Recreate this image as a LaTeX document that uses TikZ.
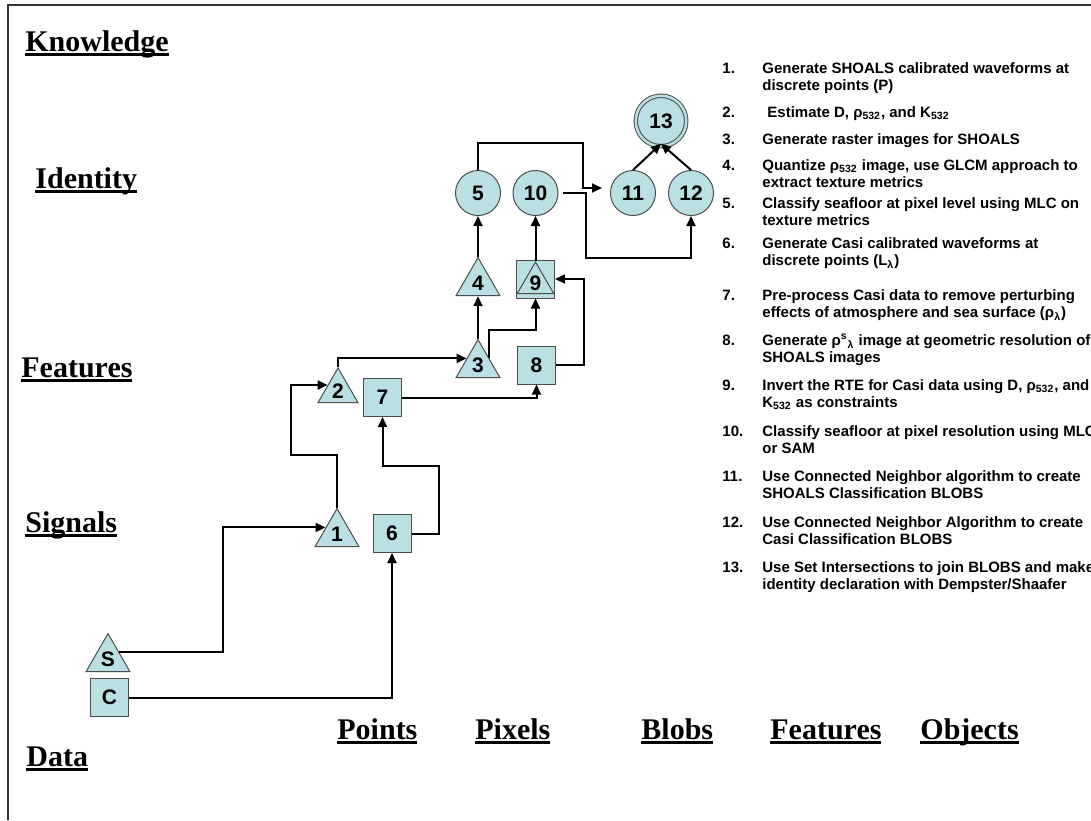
\documentclass[tikz,border=0pt]{standalone}
\usepackage{fontspec}
\setmainfont{Liberation Serif}
\newfontfamily\arialfont{Liberation Sans}
\definecolor{seablue}{HTML}{BBE0E3}
\usetikzlibrary{arrows.meta, shapes.geometric, calc}

\newcommand\ulabel[1]{\setbox0=\hbox{#1}\rlap{\copy0}\rule[-2.6pt]{\wd0}{1.5pt}}

\begin{document}
\begin{tikzpicture}[x=0.5pt, y=-0.5pt,
    proc/.style={draw=black!70, line width=0.5pt, fill=seablue, inner sep=0pt,
      font=\arialfont\bfseries\fontsize{10.5}{12}\selectfont},
    tri/.style={proc, regular polygon, regular polygon sides=3, minimum size=25.4pt},
    box/.style={proc, rectangle, minimum size=19pt},
    blob/.style={proc, circle, minimum size=22.5pt},
    goal/.style={proc, circle, minimum size=25.25pt, double=seablue, double distance=1.25pt},
    conn/.style={-{Triangle[length=5pt, width=4.5pt]}, line width=1pt},
    tier/.style={anchor=base west, inner sep=0pt, font=\bfseries\fontsize{15}{18}\selectfont},
    item/.style={anchor=north west, inner sep=0pt, align=left,
      font=\arialfont\bfseries\fontsize{7.5}{8.5}\selectfont}]
  \useasboundingbox (0,0) rectangle (1091,820);
  \draw[line width=1pt, black!80] (8,820) -- (8,5) -- (1091,5);

  \node[tier] (knowledge) at (25,51)  {\ulabel{Knowledge}};
  \node[tier] (identity)  at (35,188) {\ulabel{Identity}};
  \node[tier] (features)  at (21,377) {\ulabel{Features}};
  \node[tier] (signals)   at (25,532) {\ulabel{Signals}};
  \node[tier] (data)      at (26,766) {\ulabel{Data}};
  \foreach \x/\lab in {337/Points, 475/Pixels, 641/Blobs, 770/Features, 920/Objects}
    \node[tier] (axis\lab) at (\x,739) {\ulabel{\lab}};

  \node[tri] (S)  at (108,659)   {S};
  \node[box] (C)  at (109.5,697.5) {C};
  \node[tri] (t1) at (337,534)   {1};
  \node[tri, minimum size=23pt] (t2) at (338,391) {2};
  \node[tri] (t3) at (478,365)   {3};
  \node[tri] (t4) at (478,283)   {4};
  \node[box] (b6) at (392,533.5) {6};
  \node[box] (b7) at (382.5,397.5) {7};
  \node[box] (b8) at (536.5,365) {8};
  \node[box] (b9) at (535.5,279) {};
  \node[tri, minimum size=20pt] (t9) at (535.5,283) {9};
  \node[blob] (c5)  at (478,193) {5};
  \node[blob] (c10) at (535.5,193) {10};
  \node[blob] (c11) at (633,193) {11};
  \node[blob] (c12) at (691,193) {12};
  \node[goal] (c13) at (661,121) {13};

  \draw[conn] (S.side 3) -- ++(104,0) |- (t1.side 1);
  \draw[conn] (C.east) -| (b6.south);
  \draw[conn] (t1.corner 1) |- ++(-46,-53) |- (t2.side 1);
  \draw[conn] (b6.east) -| ++(27,-68) -| (b7.south);
  \draw[conn] (t2.corner 1) |- (t3.side 1);
  \draw[conn] (b7.east) -| (b8.south);
  \draw[conn] (t3.corner 1) -- (t4.side 2);
  \draw[conn] (t3.side 3) -- ++(0,-28) -| (b9.south);
  \draw[conn] (b8.east) -- ++(28,0) |- (b9.east);
  \draw[conn] (t4.corner 1) -- (c5.south);
  \draw[conn] (t9.corner 1) -- (c10.south);
  \draw[conn, shorten >=4pt] (c5.north) |- ++(105,-27.5) |- ([yshift=2.5pt]c11.west);
  \draw[conn, shorten <=2pt] (c10.east) -| ++(27,65) -| (c12.south);
  \draw[conn] (c11.north) -- ([yshift=1.5pt]c13.south);
  \draw[conn] (c12.north) -- ([yshift=1.5pt]c13.south);

  \foreach \y/\i/\txt in {%
    61/1/{Generate SHOALS calibrated waveforms at\\discrete points (P)},
    105/2/{\hspace{2.5pt}Estimate D, ρ\textsubscript{532}, and K\textsubscript{532}},
    132/3/{Generate raster images for SHOALS},
    158/4/{Quantize ρ\textsubscript{532} image, use GLCM approach to\\extract texture metrics},
    196/5/{Classify seafloor at pixel level using MLC on\\texture metrics},
    236/6/{Generate Casi calibrated waveforms at\\discrete points (L\textsubscript{λ})},
    288/7/{Pre-process Casi data to remove perturbing\\effects of atmosphere and sea surface (ρ\textsubscript{λ})},
    333/8/{Generate ρ\textsuperscript{s}\textsubscript{λ} image at geometric resolution of\\SHOALS images},
    378/9/{Invert the RTE for Casi data using D, ρ\textsubscript{532}, and\\K\textsubscript{532} as constraints},
    424/10/{Classify seafloor at pixel resolution using MLC\\or SAM},
    469/11/{Use Connected Neighbor algorithm to create\\SHOALS Classification BLOBS},
    515/12/{Use Connected Neighbor Algorithm to create\\Casi Classification BLOBS},
    560/13/{Use Set Intersections to join BLOBS and make\\identity declaration with Dempster/Shaafer}}{%
    \node[item] (num\i)  at (722,\y) {\strut\i.};
    \node[item] (task\i) at (762,\y) {\strut\txt};
  }
\end{tikzpicture}
\end{document}
